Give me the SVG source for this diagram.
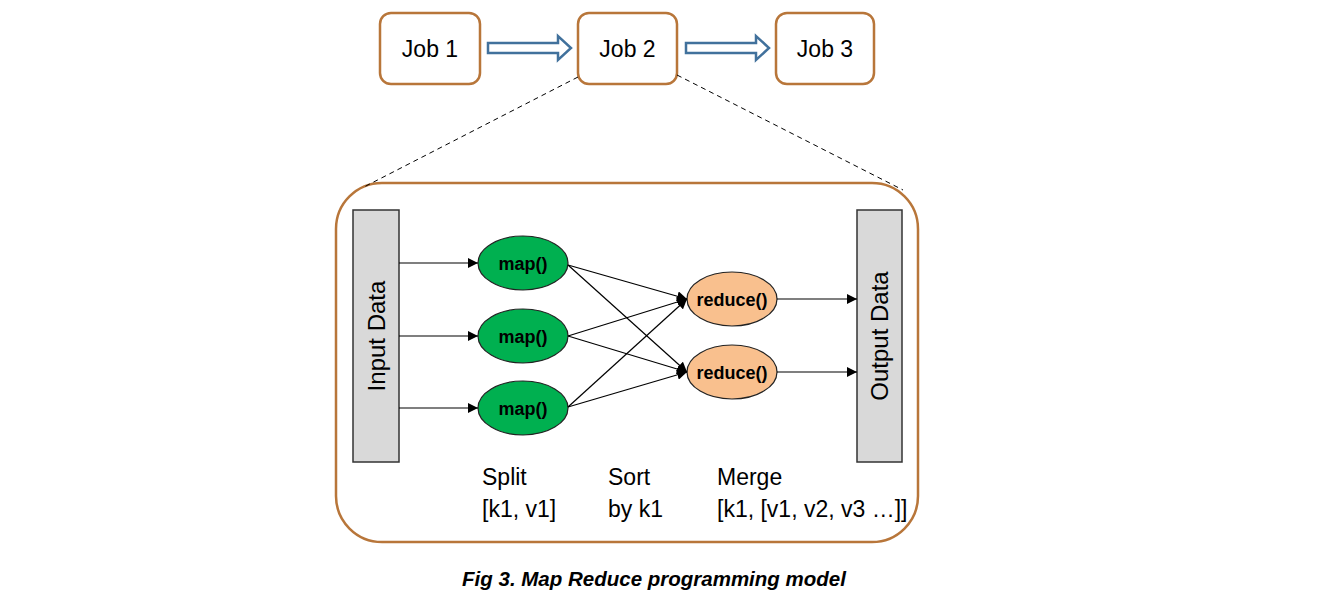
<svg xmlns="http://www.w3.org/2000/svg" width="1333" height="609" viewBox="0 0 1333 609">
<defs>
<marker id="ah" viewBox="0 0 10 10" refX="10" refY="5" markerWidth="10" markerHeight="10" markerUnits="userSpaceOnUse" orient="auto">
<path d="M0,0 L10,5 L0,10 z" fill="#000"/>
</marker>
<style>
.job{fill:#fff;stroke:#B8763A;stroke-width:2.5}
.jt{font-family:"Liberation Sans",Arial,sans-serif;font-size:23px;fill:#000;text-anchor:middle}
.blk{fill:#fff;stroke:#41719C;stroke-width:2.5}
.dash{stroke:#000;stroke-width:1;stroke-dasharray:5,4;fill:none}
.data{fill:#D9D9D9;stroke:#333;stroke-width:1.5}
.dt{font-family:"Liberation Sans",Arial,sans-serif;font-size:24px;fill:#000;text-anchor:middle}
.map{fill:#00B050;stroke:#222;stroke-width:1.2}
.red{fill:#F9C08E;stroke:#222;stroke-width:1.2}
.nt{font-family:"Liberation Sans",Arial,sans-serif;font-size:18px;font-weight:bold;fill:#000;text-anchor:middle}
.lbl{font-family:"Liberation Sans",Arial,sans-serif;font-size:23px;fill:#000}
.cap{font-family:"Liberation Sans",Arial,sans-serif;font-size:20.5px;font-weight:bold;font-style:italic;fill:#000;text-anchor:middle}
.ln{stroke:#000;stroke-width:1.2;fill:none}
</style>
</defs>

<g id="job1"><rect class="job" x="380" y="13" width="100" height="71" rx="11"/><text class="jt" x="430" y="57">Job 1</text></g>
<g id="job2"><rect class="job" x="578" y="13" width="99" height="71" rx="11"/><text class="jt" x="627.5" y="57">Job 2</text></g>
<g id="job3"><rect class="job" x="776" y="13" width="98" height="71" rx="11"/><text class="jt" x="825" y="57">Job 3</text></g>

<g id="mapreduce-box"><rect x="336" y="183" width="582" height="359" rx="46" fill="none" stroke="#B8763A" stroke-width="2.5"/></g>

<g id="input-data"><rect class="data" x="353" y="210" width="46" height="252"/><text class="dt" transform="translate(385,336) rotate(-90)">Input Data</text></g>
<g id="output-data"><rect class="data" x="857" y="210" width="45" height="252"/><text class="dt" transform="translate(888,336) rotate(-90)">Output Data</text></g>

<g id="map1"><ellipse class="map" cx="523" cy="263" rx="45" ry="27"/><text class="nt" x="523" y="269.5">map()</text></g>
<g id="map2"><ellipse class="map" cx="523" cy="336" rx="45" ry="27"/><text class="nt" x="523" y="342.5">map()</text></g>
<g id="map3"><ellipse class="map" cx="523" cy="408" rx="45" ry="27"/><text class="nt" x="523" y="414.5">map()</text></g>
<g id="reduce1"><ellipse class="red" cx="732" cy="299" rx="45" ry="27"/><text class="nt" x="732" y="305.5">reduce()</text></g>
<g id="reduce2"><ellipse class="red" cx="732" cy="372" rx="45" ry="27"/><text class="nt" x="732" y="378.5">reduce()</text></g>

<g id="connectors">
<path class="blk" d="M488,43 L558,43 L558,36 L571,48 L558,60 L558,53 L488,53 Z"/>
<path class="blk" d="M686,43 L756,43 L756,36 L769,48 L756,60 L756,53 L686,53 Z"/>
<line class="dash" x1="578" y1="77" x2="362" y2="188"/>
<line class="dash" x1="677" y1="75" x2="903" y2="190"/>
<line class="ln" x1="399" y1="263" x2="478" y2="263" marker-end="url(#ah)"/>
<line class="ln" x1="399" y1="336" x2="478" y2="336" marker-end="url(#ah)"/>
<line class="ln" x1="399" y1="408" x2="478" y2="408" marker-end="url(#ah)"/>
<line class="ln" x1="568" y1="265" x2="687" y2="299" marker-end="url(#ah)"/>
<line class="ln" x1="568" y1="265" x2="687" y2="372" marker-end="url(#ah)"/>
<line class="ln" x1="568" y1="336" x2="687" y2="299" marker-end="url(#ah)"/>
<line class="ln" x1="568" y1="336" x2="687" y2="372" marker-end="url(#ah)"/>
<line class="ln" x1="568" y1="407" x2="687" y2="299" marker-end="url(#ah)"/>
<line class="ln" x1="568" y1="407" x2="687" y2="372" marker-end="url(#ah)"/>
<line class="ln" x1="777" y1="299" x2="857" y2="299" marker-end="url(#ah)"/>
<line class="ln" x1="777" y1="372" x2="857" y2="372" marker-end="url(#ah)"/>
</g>

<g id="labels">
<text class="lbl" x="482" y="485">Split</text>
<text class="lbl" x="482" y="517">[k1, v1]</text>
<text class="lbl" x="608" y="485">Sort</text>
<text class="lbl" x="608" y="517">by k1</text>
<text class="lbl" x="717" y="485">Merge</text>
<text class="lbl" x="717" y="517">[k1, [v1, v2, v3 …]]</text>
<text class="cap" x="654" y="586">Fig 3. Map Reduce programming model</text>
</g>
</svg>
